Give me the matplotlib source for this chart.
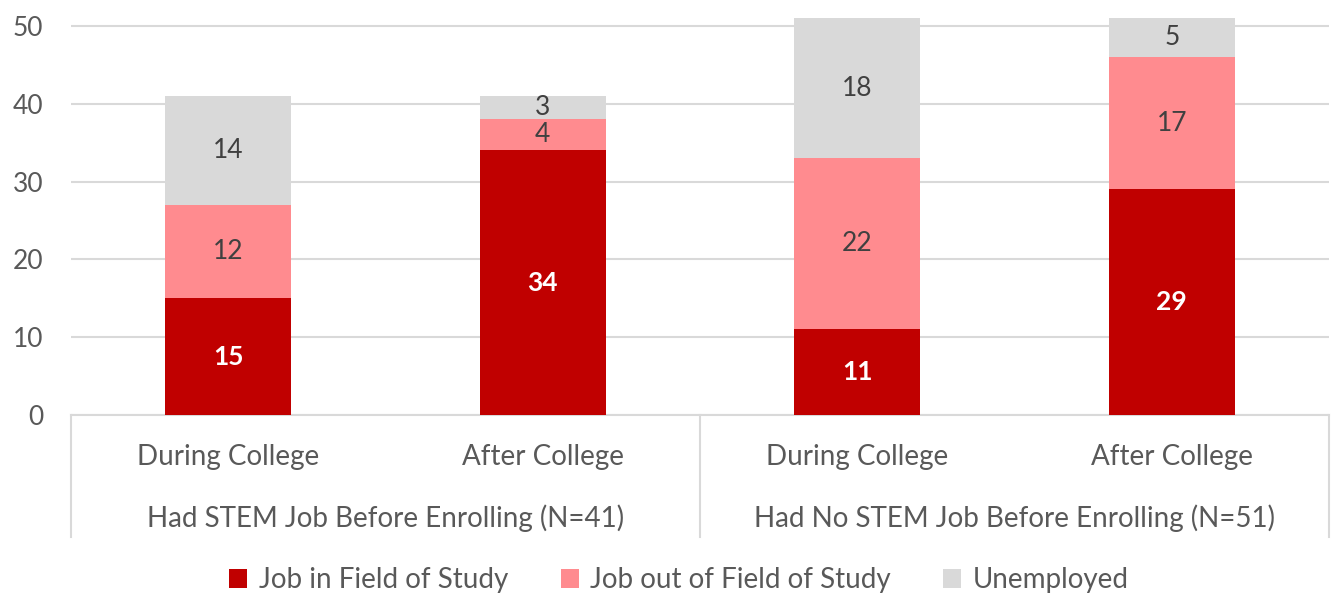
import matplotlib
matplotlib.use("Agg")
import matplotlib.pyplot as plt
from matplotlib.patches import Patch
import matplotlib.transforms as mtransforms
import numpy as np

plt.rcParams['font.family'] = ['Lato', 'DejaVu Sans']

categories = ["During College", "After College", "During College", "After College"]
groups = ["Had STEM Job Before Enrolling (N=41)", "Had No STEM Job Before Enrolling (N=51)"]
series_names = ["Job in Field of Study", "Job out of Field of Study", "Unemployed"]
job_in_field = [15, 34, 11, 29]
job_out_field = [12, 4, 22, 17]
unemployed = [14, 3, 18, 5]

colors = ["#C00000", "#FF8B8F", "#D9D9D9"]
label_colors = ["white", "#404040", "#404040"]
text_gray = "#595959"

ymax = 52
px_per_unit = (415 - 26) / 50.0
top_px = 415 - ymax * px_per_unit

fig = plt.figure(figsize=(13.31, 5.97), dpi=100)
ax = fig.add_axes([71/1331, 1-415/597, (1329-71)/1331, (415-top_px)/597])

x = np.arange(len(categories))
bottom = np.zeros(len(categories))
for vals, col, lc in zip([job_in_field, job_out_field, unemployed], colors, label_colors):
    bars = ax.bar(x, vals, width=0.4, bottom=bottom, color=col, zorder=3)
    for b, v in zip(bars, vals):
        ax.text(b.get_x() + b.get_width()/2, b.get_y() + b.get_height()/2, str(v),
                ha='center', va='center', color=lc, fontsize=19,
                fontweight='bold' if lc == 'white' else 'normal', zorder=4)
    bottom += np.array(vals)

ax.set_xlim(-0.5, len(categories) - 0.5)
ax.set_ylim(0, ymax)
ax.set_yticks([0, 10, 20, 30, 40, 50])
ax.yaxis.grid(True, color="#D9D9D9", linewidth=1.5, zorder=0)
ax.tick_params(axis='y', length=0, pad=20, labelsize=19, labelcolor=text_gray)
ax.set_xticks([])
for s in ['left', 'right', 'top']:
    ax.spines[s].set_visible(False)
ax.spines['bottom'].set_color("#D9D9D9")
ax.spines['bottom'].set_linewidth(1.5)

h_px = 415 - top_px
def ay(py):
    return (415 - py) / h_px

trans = mtransforms.blended_transform_factory(ax.transData, ax.transAxes)
for xi, cat in zip(x, categories):
    ax.text(xi, ay(457), cat, transform=trans, ha='center', va='center',
            fontsize=20, color=text_gray)
for gi, g in enumerate(groups):
    ax.text(2*gi + 0.5, ay(518), g, transform=trans, ha='center', va='center',
            fontsize=20, color=text_gray)
for xs in [-0.5, 1.5, 3.5]:
    ax.plot([xs, xs], [0, ay(537)], transform=trans, color="#D9D9D9",
            linewidth=1.5, clip_on=False)

handles = [Patch(facecolor=c, edgecolor='none') for c in colors]
fig.legend(handles, series_names, loc='center', bbox_to_anchor=(0.51, 1-580/597),
           ncol=3, frameon=False, fontsize=20, handlelength=0.65, handleheight=0.65,
           handletextpad=0.4, columnspacing=1.9, labelcolor=text_gray)

fig.savefig("out.png", dpi=100)
